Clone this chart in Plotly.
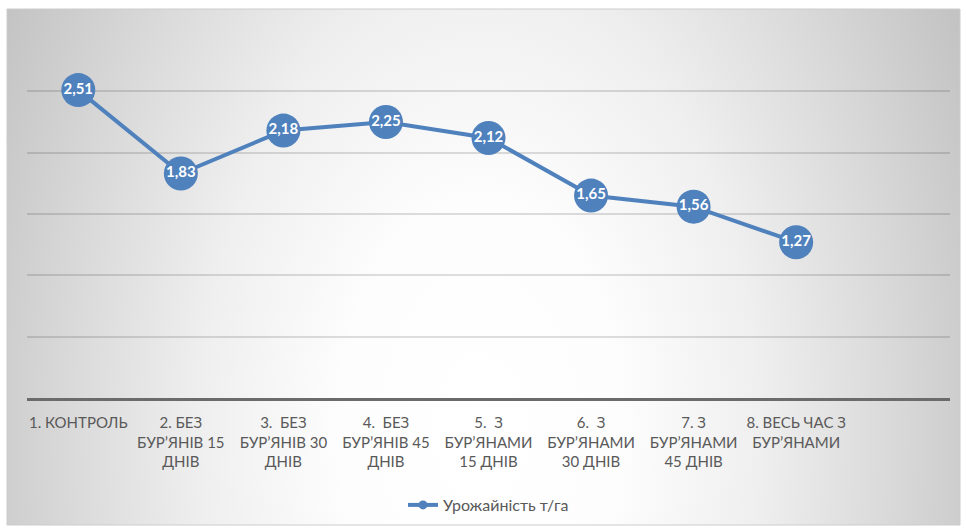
import base64
import plotly.graph_objects as go

categories = [
    "1. КОНТРОЛЬ",
    "2. БЕЗ<br>БУР’ЯНІВ 15<br>ДНІВ",
    "3.  БЕЗ<br>БУР’ЯНІВ 30<br>ДНІВ",
    "4.  БЕЗ<br>БУР’ЯНІВ 45<br>ДНІВ",
    "5.  З<br>БУР’ЯНАМИ<br>15 ДНІВ",
    "6.  З<br>БУР’ЯНАМИ<br>30 ДНІВ",
    "7. З<br>БУР’ЯНАМИ<br>45 ДНІВ",
    "8. ВЕСЬ ЧАС З<br>БУР’ЯНАМИ",
]
values = [2.51, 1.83, 2.18, 2.25, 2.12, 1.65, 1.56, 1.27]
series_name = "Урожайність т/га"

labels = [f"{v:.2f}".replace(".", ",") for v in values]

svg = """<svg xmlns='http://www.w3.org/2000/svg' width='953' height='516' viewBox='0 0 953 516' preserveAspectRatio='none'>
<defs><radialGradient id='g' gradientUnits='userSpaceOnUse' cx='0' cy='0' r='1'
 gradientTransform='translate(473,421) scale(560,900)'>
<stop offset='0' stop-color='#ffffff'/><stop offset='0.25' stop-color='#fdfdfd'/>
<stop offset='0.5' stop-color='#efefef'/><stop offset='0.75' stop-color='#d8d8d8'/>
<stop offset='1' stop-color='#c0c0c0'/></radialGradient></defs>
<rect width='953' height='516' fill='url(#g)'/></svg>"""
src = "data:image/svg+xml;base64," + base64.b64encode(svg.encode()).decode()

fig = go.Figure()
fig.add_trace(go.Scatter(
    x=list(range(len(values))), y=values, name=series_name,
    mode="lines+markers+text", showlegend=False,
    line=dict(color="#4f81bd", width=4),
    marker=dict(color="#4f81bd", size=34),
    text=labels, textposition="middle center",
    textfont=dict(color="white", size=15, family="Lato", weight="bold"),
    cliponaxis=False,
))
# legend entry with a small marker, as in the reference
fig.add_trace(go.Scatter(
    x=[None], y=[None], name=series_name, mode="lines+markers",
    line=dict(color="#4f81bd", width=4),
    marker=dict(color="#4f81bd", size=9),
))

W, H = 966, 528
L, R, T, B = 27, 16, 30, 130
pw, ph = W - L - R, H - T - B

def px2paper_x(px):
    return (px - L) / pw

def px2paper_y(py):
    return (H - B - py) / ph

fig.add_layout_image(dict(
    source=src, xref="paper", yref="paper",
    x=px2paper_x(7), y=px2paper_y(9),
    sizex=(960 - 7) / pw, sizey=(525 - 9) / ph,
    xanchor="left", yanchor="top", sizing="stretch", layer="below",
))
fig.add_shape(type="rect", xref="paper", yref="paper",
              x0=px2paper_x(7), x1=px2paper_x(960),
              y0=px2paper_y(525), y1=px2paper_y(9),
              line=dict(color="#cccccc", width=1), layer="below")

fig.update_layout(
    width=W, height=H,
    margin=dict(l=L, r=R, t=T, b=B, autoexpand=False),
    paper_bgcolor="white", plot_bgcolor="rgba(0,0,0,0)",
    font=dict(family="Lato", color="#595959", size=15),
    showlegend=True,
    legend=dict(orientation="h", x=0.5, xanchor="center",
                y=px2paper_y(488), yanchor="top",
                bgcolor="rgba(255,255,255,0.3)",
                font=dict(size=16, color="#595959")),
    xaxis=dict(
        tickmode="array", tickvals=list(range(len(categories))), ticktext=categories,
        range=[-0.5, 8.5], showgrid=False, zeroline=False, automargin=False,
        showline=True, linecolor="#6b6b6b", linewidth=3,
        ticks="", tickangle=0, tickfont=dict(size=15, color="#595959"),
        ticklabelstandoff=9,
    ),
    yaxis=dict(
        range=[0, 3], dtick=0.5, showticklabels=False, automargin=False,
        gridcolor="rgba(0,0,0,0.13)", gridwidth=1.5, zeroline=False, ticks="",
    ),
)

fig.write_html("out.html", config={"displayModeBar": False},
               post_script="document.body.style.margin='0';")
